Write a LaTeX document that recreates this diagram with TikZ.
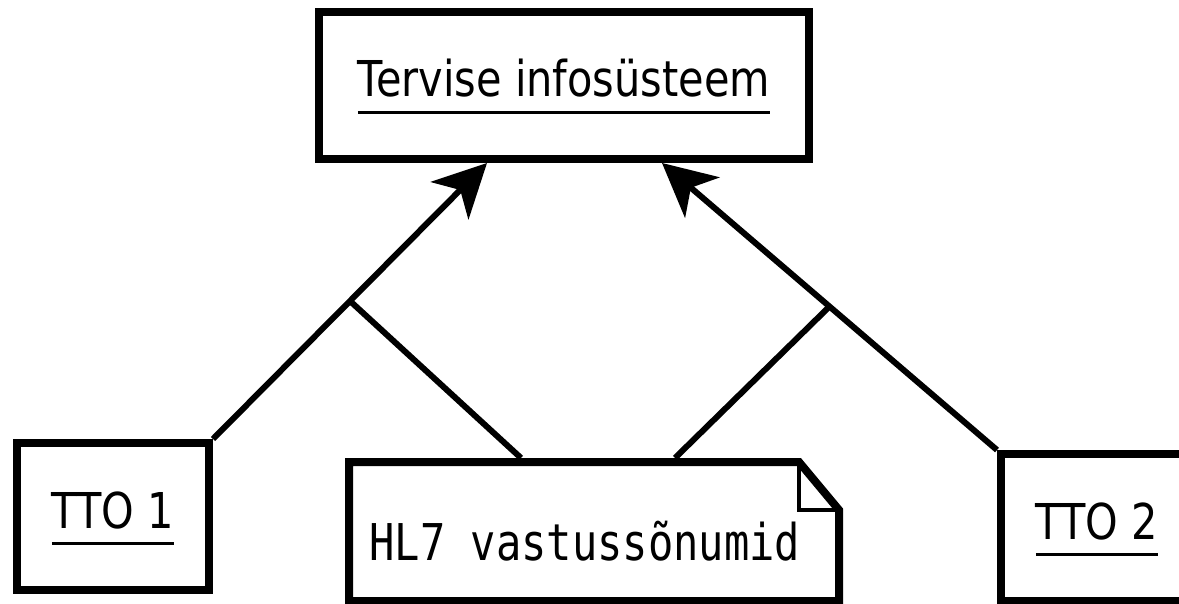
\documentclass[tikz,border=0pt]{standalone}
\usepackage{fontspec}
\usetikzlibrary{arrows.meta,calc}
\newfontfamily\boxfont[FakeStretch=0.84]{DejaVu Sans}
\newfontfamily\notefont[FakeStretch=0.83]{DejaVu Sans Mono}
% object name with an underline, baseline kept at the text
\newcommand\objname[1]{\setbox0=\hbox{#1}\vtop{\copy0\kern13pt\hrule height 3pt width \wd0}}
\begin{document}
\begin{tikzpicture}[x=1pt,y=-1pt,
  objbox/.style={draw, line width=8pt, inner sep=0pt,
    minimum width=192pt, minimum height=147pt,
    text height=43pt, text depth=20pt,
    font=\boxfont\fontsize{49.4pt}{59pt}\selectfont},
  connline/.style={line width=6pt},
  arrowline/.style={connline, -{Stealth[length=53pt,width=53pt,inset=15pt]}}]
\useasboundingbox (0,0) rectangle (1179,604);
\clip (0,0) rectangle (1179,604);

% objects
\node[objbox, minimum width=490pt] (sys) at (564,85.5) {\objname{Tervise infosüsteem}};
\node[objbox] (tto1) at (113,516.5) {\objname{TTO 1}};
\node[objbox] (tto2) at (1097,527.5) {\objname{TTO 2}};

% note with folded corner
\node[inner sep=0pt, outer sep=0pt, minimum width=490pt, minimum height=139pt] (note) at (594,531.5) {};
\node[font=\notefont\fontsize{50.7pt}{60pt}\selectfont, anchor=base, inner sep=0pt] (notetext) at (585,560) {HL7 vastussõnumid};
\coordinate (foldA) at ([xshift=-40pt]note.north east);
\coordinate (foldB) at ([yshift=-48pt]note.north east);
\draw[line width=8pt] (note.south west) -- (note.north west) -- (foldA) -- (foldB) -- (note.south east) -- cycle;
\draw[line width=4pt] (foldA) |- (foldB);

% message flows
\coordinate (tipL) at ([xshift=172pt]sys.south west);
\coordinate (tipR) at ([xshift=347pt]sys.south west);
\draw[arrowline] (tto1.north east) -- (tipL);
\draw[arrowline] (tto2.north west) -- (tipR);
\coordinate (jL) at ($(tto1.north east)!0.5!(tipL)$);
\coordinate (jR) at ($(tto2.north west)!0.5!(tipR)$);
\coordinate (nL) at ([xshift=172pt,yshift=4pt]note.north west);
\coordinate (nR) at ([xshift=326pt,yshift=4pt]note.north west);
\draw[connline] (jL) -- (nL);
\draw[connline] (jR) -- (nR);
\end{tikzpicture}
\end{document}
